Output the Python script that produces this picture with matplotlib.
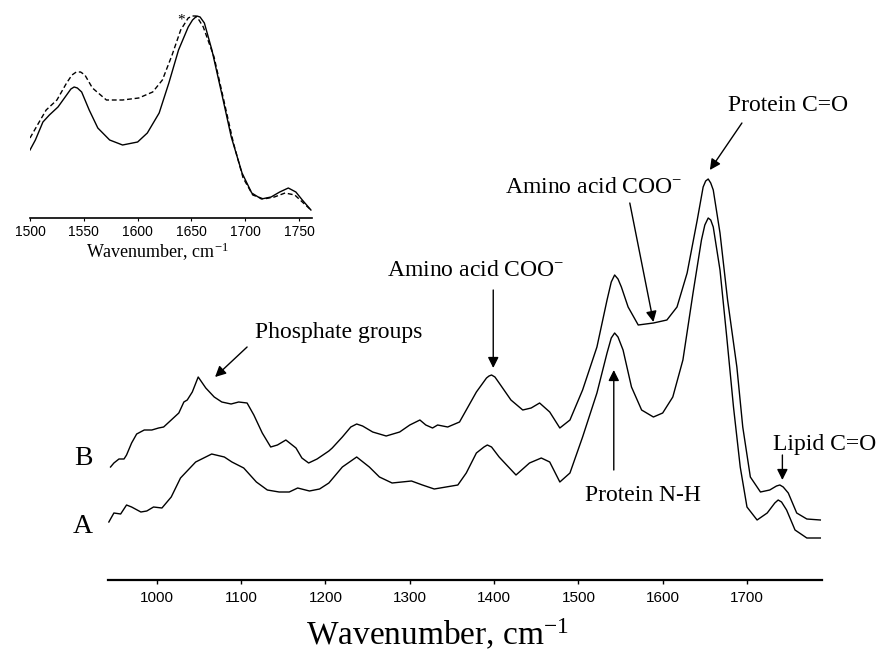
import matplotlib
matplotlib.use("Agg")
import matplotlib.pyplot as plt

plt.rcParams['mathtext.fontset'] = 'custom'
plt.rcParams['mathtext.rm'] = 'Liberation Serif'
plt.rcParams['mathtext.it'] = 'Liberation Serif:italic'
plt.rcParams['mathtext.bf'] = 'Liberation Serif:bold'

# ---------------- main spectra ----------------
wn_B = [945, 949, 955, 961, 964, 970, 976, 985, 994, 1002, 1008, 1017, 1026, 1032, 1036, 1042,
        1049, 1058, 1068, 1077, 1088, 1097, 1107, 1115, 1125, 1135, 1143, 1153, 1165, 1172, 1180,
        1190, 1204, 1208, 1220, 1230, 1237, 1244, 1256, 1272, 1288, 1300, 1312, 1319, 1327, 1333,
        1345, 1359, 1367, 1379, 1391, 1394, 1397, 1401, 1406, 1420, 1434, 1444, 1454, 1466, 1478,
        1490, 1505, 1522, 1534, 1539, 1543, 1547, 1551, 1559, 1571, 1589, 1605, 1617, 1629, 1641,
        1648, 1651, 1654, 1657, 1660, 1668, 1677, 1688, 1695, 1704, 1716, 1727, 1735, 1739, 1743,
        1749, 1759, 1771, 1787]
abs_B = [1.13, 1.17, 1.21, 1.21, 1.25, 1.37, 1.46, 1.50, 1.50, 1.52, 1.53, 1.60, 1.67, 1.78, 1.80, 1.88,
         2.03, 1.92, 1.83, 1.78, 1.76, 1.78, 1.77, 1.65, 1.47, 1.33, 1.35, 1.40, 1.32, 1.22, 1.17,
         1.21, 1.29, 1.32, 1.43, 1.53, 1.56, 1.54, 1.48, 1.44, 1.48, 1.55, 1.60, 1.55, 1.52, 1.55,
         1.53, 1.58, 1.70, 1.88, 2.02, 2.04, 2.05, 2.03, 1.97, 1.80, 1.70, 1.72, 1.77, 1.68, 1.52,
         1.60, 1.90, 2.33, 2.80, 2.98, 3.05, 3.01, 2.93, 2.73, 2.55, 2.57, 2.60, 2.73, 3.07, 3.60,
         3.93, 3.99, 4.01, 3.97, 3.90, 3.47, 2.80, 2.13, 1.53, 1.03, 0.88, 0.90, 0.94, 0.95, 0.93,
         0.87, 0.67, 0.61, 0.60]

wn_A = [943, 949, 957, 964, 970, 981, 988, 996, 1006, 1017, 1028, 1046, 1065, 1080, 1089, 1103,
        1118, 1131, 1145, 1157, 1167, 1181, 1193, 1204, 1220, 1237, 1252, 1264, 1279, 1302, 1315,
        1329, 1343, 1357, 1367, 1379, 1388, 1392, 1397, 1406, 1426, 1442, 1456, 1466, 1478, 1490,
        1505, 1522, 1534, 1539, 1543, 1547, 1553, 1563, 1575, 1589, 1600, 1612, 1624, 1636, 1646,
        1650, 1654, 1657, 1660, 1668, 1676, 1684, 1692, 1700, 1712, 1724, 1733, 1737, 1741, 1747,
        1757, 1771, 1787]
abs_A = [0.58, 0.67, 0.66, 0.75, 0.73, 0.68, 0.69, 0.73, 0.72, 0.83, 1.02, 1.18, 1.26, 1.23, 1.18, 1.12,
         0.98, 0.90, 0.88, 0.88, 0.92, 0.89, 0.91, 0.97, 1.13, 1.23, 1.13, 1.03, 0.97, 0.99, 0.95,
         0.91, 0.93, 0.95, 1.07, 1.27, 1.33, 1.35, 1.33, 1.23, 1.05, 1.17, 1.22, 1.18, 0.98, 1.07,
         1.43, 1.87, 2.27, 2.42, 2.47, 2.43, 2.30, 1.93, 1.70, 1.63, 1.67, 1.83, 2.20, 2.87, 3.40,
         3.55, 3.62, 3.60, 3.53, 3.10, 2.43, 1.73, 1.13, 0.73, 0.60, 0.67, 0.77, 0.80, 0.78, 0.70,
         0.50, 0.42, 0.42]

main_ticks = [1000, 1100, 1200, 1300, 1400, 1500, 1600, 1700]

# ---------------- inset spectra ----------------
wn_in_solid = [1500, 1505, 1512, 1518, 1526, 1534, 1538, 1541, 1544, 1548, 1555, 1563, 1574, 1586,
               1600, 1609, 1620, 1629, 1638, 1647, 1651, 1655, 1658, 1662, 1669, 1678, 1687, 1697,
               1706, 1715, 1724, 1732, 1740, 1747, 1753, 1761]
abs_in_solid = [0.68, 0.78, 0.96, 1.03, 1.11, 1.23, 1.29, 1.31, 1.30, 1.26, 1.08, 0.90, 0.78, 0.73,
                0.76, 0.85, 1.05, 1.35, 1.68, 1.91, 1.98, 2.02, 2.01, 1.95, 1.68, 1.25, 0.81, 0.45,
                0.25, 0.19, 0.21, 0.26, 0.30, 0.26, 0.18, 0.08]
wn_in_dash = [1500, 1508, 1515, 1525, 1534, 1539, 1543, 1547, 1551, 1558, 1571, 1586, 1601, 1614,
              1623, 1632, 1640, 1647, 1651, 1654, 1657, 1661, 1671, 1680, 1689, 1698, 1707, 1717,
              1727, 1737, 1746, 1753, 1761]
abs_in_dash = [0.80, 0.95, 1.08, 1.18, 1.35, 1.43, 1.46, 1.46, 1.43, 1.30, 1.18, 1.18, 1.20, 1.26,
               1.38, 1.63, 1.88, 2.00, 2.02, 2.02, 1.98, 1.91, 1.61, 1.18, 0.75, 0.40, 0.23, 0.19,
               0.21, 0.25, 0.23, 0.16, 0.08]
inset_ticks = [1500, 1550, 1600, 1650, 1700, 1750]

# annotations: (text, text_x, text_y, arrow_tail, arrow_tip)
annotations = [
    ("Phosphate groups", 1116, 2.42, (1107, 2.33), (1069, 2.03)),
    ("Amino acid COO$^{-}$", 1273, 3.04, (1399, 2.90), (1399, 2.12)),
    ("Amino acid COO$^{-}$", 1413, 3.87, (1561, 3.77), (1589, 2.58)),
    ("Protein C=O", 1678, 4.69, (1694, 4.57), (1656, 4.10)),
    ("Protein N-H", 1508, 0.79, (1542, 1.10), (1542, 2.10)),
    ("Lipid C=O", 1731, 1.30, (1742, 1.25), (1742, 1.00)),
]
trace_labels = [("B", 1.15), ("A", 0.47)]

SERIF = 'Liberation Serif'
SANS = 'Liberation Sans'

fig = plt.figure(figsize=(8.79, 6.55), dpi=100)
ax = fig.add_axes([108 / 879, 75 / 655, 714 / 879, 500 / 655])
ax.plot(wn_B, abs_B, color='black', lw=1.0)
ax.plot(wn_A, abs_A, color='black', lw=1.0)
ax.set_xlim(942, 1789)
ax.set_ylim(0, 5.0)
for s in ['top', 'right', 'left']:
    ax.spines[s].set_visible(False)
ax.spines['bottom'].set_linewidth(1.6)
ax.set_yticks([])
ax.set_xticks(main_ticks)
ax.set_xticklabels([str(t) for t in main_ticks], fontfamily=SANS, fontsize=11)
ax.tick_params(axis='x', direction='out', length=3, width=1, pad=5)
ax.patch.set_alpha(0)

for txt, tx, ty, tail, tip in annotations:
    ax.text(tx, ty, txt, fontfamily=SERIF, fontsize=17, ha='left', va='baseline', clip_on=False)
    ax.annotate('', xy=tip, xytext=tail,
                arrowprops=dict(arrowstyle='-|>', color='black', lw=1.0,
                                mutation_scale=16, shrinkA=0, shrinkB=0),
                annotation_clip=False)

for lab, ly in trace_labels:
    ax.text(924, ly, lab, fontfamily=SERIF, fontsize=20, ha='right', va='baseline', clip_on=False)

fig.text(306 / 879, 10 / 655, "Wavenumber, cm$^{-1}$", fontfamily=SERIF, fontsize=24,
         ha='left', va='baseline')

# inset
axi = fig.add_axes([30 / 879, (655 - 218) / 655, 282 / 879, 208 / 655])
axi.plot(wn_in_solid, abs_in_solid, color='black', lw=1.0)
axi.plot(wn_in_dash, abs_in_dash, color='black', lw=1.0, linestyle=(0, (3.5, 2)))
axi.set_xlim(1500, 1762)
axi.set_ylim(0, 2.08)
for s in ['top', 'right', 'left']:
    axi.spines[s].set_visible(False)
axi.spines['bottom'].set_linewidth(1.2)
axi.set_yticks([])
axi.set_xticks(inset_ticks)
axi.set_xticklabels([str(t) for t in inset_ticks], fontfamily=SANS, fontsize=10)
axi.tick_params(axis='x', direction='out', length=2, width=0.8, pad=3)
axi.patch.set_alpha(0)
axi.text(1640, 1.98, "*", fontfamily=SERIF, fontsize=11, ha='center', va='center')
fig.text(157 / 879, (655 - 252) / 655, "Wavenumber, cm$^{-1}$", fontfamily=SERIF, fontsize=13,
         ha='center', va='center')

fig.savefig("out.png", dpi=100)
